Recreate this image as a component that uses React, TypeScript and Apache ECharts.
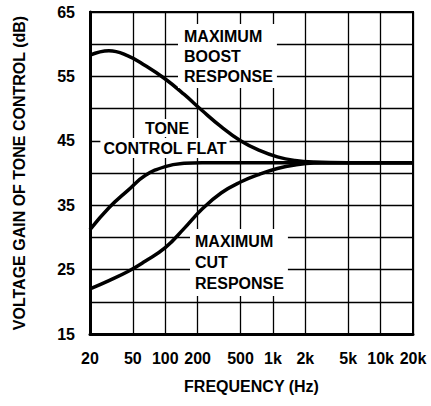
import React, { useEffect, useRef } from "react";
import * as echarts from "echarts";

// Frequencies (Hz) at which the curves were read
const frequencies = [20, 30, 45, 65, 100, 150, 220, 330, 500, 750, 1100, 1600, 2400, 5000, 10000, 20000];
// Voltage gain (dB)
const maxBoost = [58.3, 59.0, 58.2, 56.7, 54.6, 52.2, 49.7, 47.2, 45.0, 43.5, 42.5, 41.95, 41.7, 41.6, 41.6, 41.6];
const toneFlat = [31.2, 34.6, 37.3, 39.6, 41.0, 41.5, 41.6, 41.6, 41.6, 41.6, 41.6, 41.6, 41.6, 41.6, 41.6, 41.6];
const maxCut = [22.0, 23.3, 24.7, 26.3, 28.4, 31.4, 34.4, 36.9, 38.6, 39.8, 40.7, 41.25, 41.55, 41.6, 41.6, 41.6];

const xTickValues = [20, 50, 100, 200, 500, 1000, 2000, 5000, 10000, 20000];
const xTickLabels = ["20", "50", "100", "200", "500", "1k", "2k", "5k", "10k", "20k"];
const yLabelValues = [15, 25, 35, 45, 55, 65];

const AXIS_FONT = '"Liberation Sans", Arial, sans-serif';
const NOTE_FONT = 'bold 16px "Liberation Sans", Arial, sans-serif';

export default function App() {
  const ref = useRef<HTMLDivElement>(null);

  useEffect(() => {
    if (!ref.current) return;
    const chart = echarts.init(ref.current, null, { renderer: "svg" });
    const toPairs = (vals: number[]) => frequencies.map((f, i) => [f, vals[i]]);
    const lineSeries = (name: string, vals: number[]) => ({
      name,
      type: "line",
      data: toPairs(vals),
      smooth: 0.45,
      showSymbol: false,
      symbol: "none",
      lineStyle: { color: "#000", width: 3.5 },
      z: 3,
    });
    const axisText = { color: "#000", fontFamily: AXIS_FONT, fontWeight: "bold", fontSize: 16 };

    chart.setOption({
      animation: false,
      backgroundColor: "#fff",
      grid: {
        left: 90,
        top: 12,
        right: 18,
        bottom: 72,
        show: true,
        borderColor: "#000",
        borderWidth: 2,
        backgroundColor: "transparent",
      },
      xAxis: {
        type: "log",
        logBase: 10,
        min: 20,
        max: 20000,
        name: "FREQUENCY (Hz)",
        nameLocation: "middle",
        nameGap: 44,
        nameTextStyle: { ...axisText },
        axisLine: { show: true, lineStyle: { color: "#000", width: 3 } },
        axisTick: { show: false, customValues: xTickValues },
        axisLabel: {
          ...axisText,
          customValues: xTickValues,
          margin: 16,
          formatter: (v: number) => {
            const i = xTickValues.findIndex((t) => Math.abs(t - v) / t < 1e-6);
            return i >= 0 ? xTickLabels[i] : "";
          },
        },
        splitLine: { show: true, lineStyle: { color: "#000", width: 1.3 } },
        minorTick: { show: false },
        minorSplitLine: { show: false },
      },
      yAxis: {
        type: "value",
        min: 15,
        max: 65,
        interval: 5,
        name: "VOLTAGE GAIN OF TONE CONTROL (dB)",
        nameLocation: "middle",
        nameGap: 63,
        nameTextStyle: { ...axisText },
        axisLine: { show: true, lineStyle: { color: "#000", width: 3 } },
        axisTick: { show: false },
        axisLabel: {
          ...axisText,
          margin: 15,
          formatter: (v: number) => (yLabelValues.includes(v) ? String(v) : ""),
        },
        splitLine: { show: true, lineStyle: { color: "#000", width: 1.3 } },
      },
      series: [
        lineSeries("Maximum Boost Response", maxBoost),
        lineSeries("Tone Control Flat", toneFlat),
        lineSeries("Maximum Cut Response", maxCut),
      ],
      graphic: [
        {
          type: "text",
          z: 100,
          x: 178,
          y: 24,
          style: {
            text: "MAXIMUM\nBOOST\nRESPONSE",
            font: NOTE_FONT,
            fill: "#000",
            lineHeight: 20,
            backgroundColor: "#fff",
            padding: [2, 4, 2, 6],
          },
        },
        {
          type: "text",
          z: 100,
          x: 167,
          y: 128,
          style: {
            text: "TONE",
            font: NOTE_FONT,
            fill: "#000",
            align: "center",
            verticalAlign: "middle",
            backgroundColor: "#fff",
            padding: [1, 2, 1, 2],
          },
        },
        {
          type: "text",
          z: 100,
          x: 165,
          y: 148,
          style: {
            text: "CONTROL FLAT",
            font: NOTE_FONT,
            fill: "#000",
            align: "center",
            verticalAlign: "middle",
            backgroundColor: "#fff",
            padding: [2, 3, 2, 3],
          },
        },
        {
          type: "text",
          z: 100,
          x: 190,
          y: 229,
          style: {
            text: "MAXIMUM\nCUT\nRESPONSE",
            font: NOTE_FONT,
            fill: "#000",
            lineHeight: 21,
            backgroundColor: "#fff",
            padding: [2, 4, 2, 5],
          },
        },
      ],
    });
    return () => chart.dispose();
  }, []);

  return (
    <div
      ref={ref}
      style={{ position: "fixed", left: 0, top: 0, width: 431, height: 406, background: "#fff" }}
    />
  );
}
